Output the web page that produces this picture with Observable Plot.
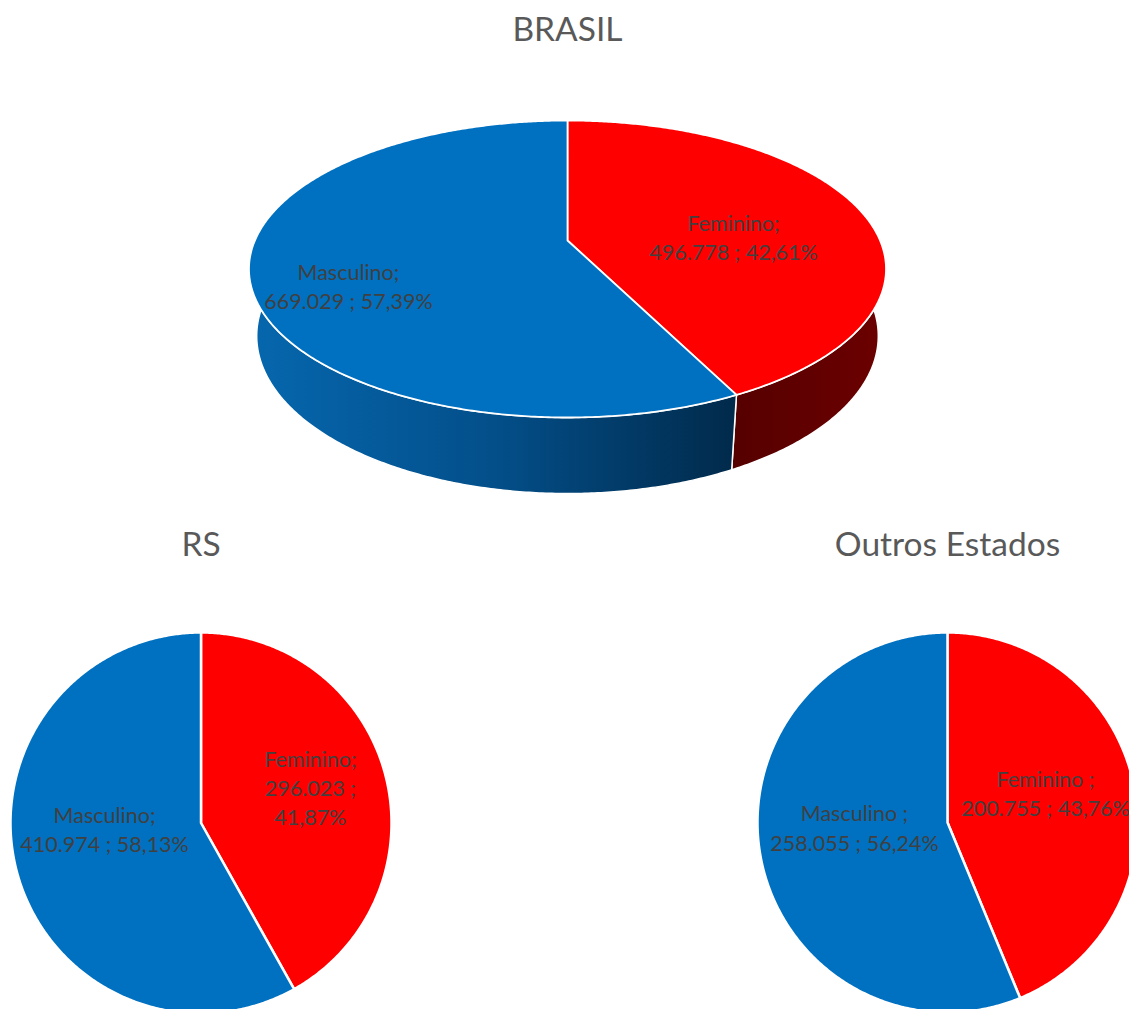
<!DOCTYPE html>
<html><head><meta charset="utf-8">
<script src="https://cdn.jsdelivr.net/npm/d3@7"></script>
<script src="https://cdn.jsdelivr.net/npm/@observablehq/plot@0.6"></script>
<style>html,body{margin:0;padding:0;background:#fff;overflow:hidden}</style>
</head><body><div id="chart"></div>
<script>
// ---- data ----
const charts = ["BRASIL", "RS", "Outros Estados"];
const categories = ["Feminino", "Masculino"];
const brasilValues = [496778, 669029];
const rsValues = [296023, 410974];
const outrosValues = [200755, 258055];
const brasilLabels = ["Feminino;\n496.778 ; 42,61%", "Masculino;\n669.029 ; 57,39%"];
const rsLabels = ["Feminino;\n296.023 ;\n41,87%", "Masculino;\n410.974 ; 58,13%"];
const outrosLabels = ["Feminino ;\n200.755 ; 43,76%", "Masculino ;\n258.055 ; 56,24%"];
const topColors = {Feminino: "#FF0000", Masculino: "#0070C0"};
const sideFills = {Feminino: "url(#redSide)", Masculino: "url(#blueSide)"};

// ---- layout ----
const W = 1129, H = 1009;
const font = "Lato, 'Open Sans', sans-serif";
const L3 = {cx: 567, cy: 240, k: 312.6, sinP: 0.4575, cosP: 0.889, rd: 0.216, depth: 0.243,
            titleY: 30, labelPolar: [[86.7, 0.535], [245.9, 0.724]]};
const pies2d = [
  {name: charts[1], values: rsValues, labels: rsLabels, cx: 200.5, cy: 822.5, r: 190.5, titleY: 545,
   labelPolar: [[71.6, 0.605], [267, 0.507]]},
  {name: charts[2], values: outrosValues, labels: outrosLabels, cx: 947, cy: 822, r: 190, titleY: 545,
   labelPolar: [[72.7, 0.54], [267.5, 0.49]]}
];
const rad = Math.PI / 180;

function proj(theta, r, yn) {
  const X = r * Math.sin(theta), Z = -r * Math.cos(theta);
  const dz = 1 - L3.rd * (yn * L3.sinP + Z * L3.cosP);
  return [L3.cx + L3.k * X / dz, L3.cy - L3.k * (yn * L3.cosP - Z * L3.sinP) / dz];
}
function arcPts(a0, a1, f) {
  const n = Math.max(2, Math.ceil((a1 - a0) / (0.5 * rad)));
  return d3.range(n + 1).map(i => f(a0 + (a1 - a0) * i / n));
}
const pie = d3.pie().sort(null);

const marks = [];
const poly = (pts, fill, stroke, sw) => Plot.line(pts, {x: d => d[0], y: d => d[1], fill, stroke, strokeWidth: sw, strokeLinejoin: "round", curve: "linear-closed"});

// 3D pie (BRASIL)
const arcs3 = pie(brasilValues);
arcs3.forEach((a, i) => {
  const top = arcPts(a.startAngle, a.endAngle, t => proj(t, 1, 0));
  const bot = arcPts(a.startAngle, a.endAngle, t => proj(t, 1, -L3.depth)).reverse();
  marks.push(poly(top.concat(bot), sideFills[categories[i]], "white", 1.5));
});
arcs3.forEach((a, i) => {
  const top = arcPts(a.startAngle, a.endAngle, t => proj(t, 1, 0));
  marks.push(poly([proj(0, 0, 0)].concat(top), topColors[categories[i]], "white", 1.8));
});
const texts = [];
const titles = [{x: L3.cx, y: L3.titleY, t: charts[0]}];
arcs3.forEach((a, i) => {
  const [ang, rf] = L3.labelPolar[i];
  const [x, y] = proj(ang * rad, rf, 0);
  texts.push({x, y, t: brasilLabels[i]});
});

// 2D pies
pies2d.forEach(p => {
  const arcs = pie(p.values);
  arcs.forEach((a, i) => {
    const pts = [[p.cx, p.cy]].concat(arcPts(a.startAngle, a.endAngle, t => [p.cx + p.r * Math.sin(t), p.cy - p.r * Math.cos(t)]));
    marks.push(poly(pts, topColors[categories[i]], "white", 2.5));
    const [ang, rf] = p.labelPolar[i];
    texts.push({x: p.cx + rf * p.r * Math.sin(ang * rad), y: p.cy - rf * p.r * Math.cos(ang * rad), t: p.labels[i]});
  });
  titles.push({x: p.cx, y: p.titleY, t: p.name});
});

marks.push(Plot.text(texts, {x: "x", y: "y", text: "t", fill: "#404040", fontSize: 21.5, fontFamily: font, lineHeight: 1.36}));
marks.push(Plot.text(titles, {x: "x", y: "y", text: "t", fill: "#595959", fontSize: 33.5, fontFamily: font}));

const plot = Plot.plot({
  width: W, height: H, margin: 0,
  x: {domain: [0, W], range: [0, W], axis: null},
  y: {domain: [0, H], range: [0, H], axis: null},
  style: {background: "white", overflow: "hidden"},
  marks
});
const svg = d3.select(plot);
const defs = svg.insert("defs", ":first-child");
const g1 = defs.append("linearGradient").attr("id", "blueSide").attr("gradientUnits", "userSpaceOnUse")
  .attr("x1", 250).attr("x2", 735).attr("y1", 0).attr("y2", 0);
[[0, "#0667ae"], [0.5, "#034f8a"], [1, "#012a4b"]].forEach(([o, c]) => g1.append("stop").attr("offset", o).attr("stop-color", c));
const g2 = defs.append("linearGradient").attr("id", "redSide").attr("gradientUnits", "userSpaceOnUse")
  .attr("x1", 735).attr("x2", 885).attr("y1", 0).attr("y2", 0);
[[0, "#560000"], [1, "#6c0000"]].forEach(([o, c]) => g2.append("stop").attr("offset", o).attr("stop-color", c));
document.getElementById("chart").appendChild(plot);
</script></body></html>
